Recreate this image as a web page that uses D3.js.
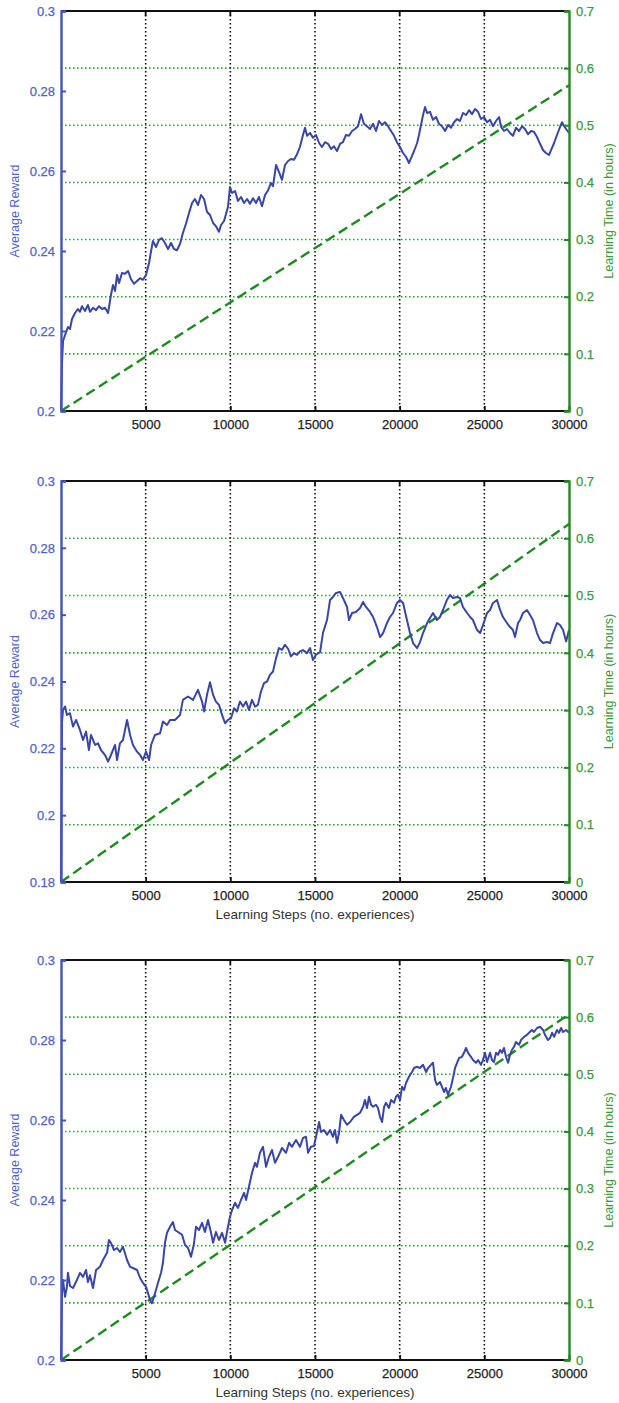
<!DOCTYPE html>
<html>
<head>
<meta charset="utf-8">
<script src="https://cdn.jsdelivr.net/npm/d3@7"></script>
<style>
  html, body { margin: 0; padding: 0; background: #fff; }
  svg { display: block; font-family: "Liberation Sans", Arial, Helvetica, sans-serif; }
</style>
</head>
<body>
<svg id="chart" width="619" height="1403"></svg>
<script>
// Learning steps shown on the shared x axis
const stepTicks = [5000, 10000, 15000, 20000, 25000, 30000];
const gridSteps = [5000, 10000, 15000, 20000, 25000];
const timeTicks = [0, 0.1, 0.2, 0.3, 0.4, 0.5, 0.6, 0.7];
const rewardTicksA = [0.2, 0.22, 0.24, 0.26, 0.28, 0.3];
const rewardTicksB = [0.18, 0.2, 0.22, 0.24, 0.26, 0.28, 0.3];
const rewardTicksC = [0.2, 0.22, 0.24, 0.26, 0.28, 0.3];

// Average reward per run: [learning step, average reward]
const rewardA = [[0,0.200],[60,0.212],[120,0.2175],[240,0.219],[410,0.221],[530,0.2205],[650,0.223],[830,0.2245],[1000,0.2255],[1120,0.2248],[1240,0.2262],[1420,0.2250],[1590,0.2265],[1710,0.2248],[1890,0.2258],[2070,0.2252],[2240,0.2262],[2420,0.2255],[2600,0.2258],[2780,0.2245],[2950,0.2290],[3070,0.2315],[3190,0.2300],[3310,0.2340],[3430,0.2320],[3600,0.2345],[3780,0.2343],[3960,0.2350],[4130,0.2330],[4310,0.2318],[4490,0.2325],[4670,0.2332],[4840,0.2328],[5020,0.2340],[5200,0.2370],[5320,0.2400],[5430,0.2425],[5610,0.2410],[5790,0.2428],[5960,0.2432],[6140,0.2420],[6320,0.2405],[6500,0.2420],[6670,0.2405],[6850,0.2402],[7030,0.2418],[7200,0.2445],[7380,0.2468],[7560,0.2495],[7740,0.2520],[7910,0.2530],[8090,0.2515],[8270,0.2540],[8450,0.2530],[8620,0.2498],[8800,0.2490],[8980,0.2470],[9150,0.2462],[9330,0.2448],[9450,0.2465],[9630,0.2475],[9740,0.2492],[9860,0.2510],[9980,0.2560],[10100,0.2545],[10280,0.2550],[10450,0.2525],[10630,0.2535],[10810,0.2520],[10990,0.2530],[11160,0.2518],[11340,0.2532],[11520,0.2520],[11690,0.2535],[11870,0.2512],[12050,0.2540],[12230,0.2552],[12400,0.2570],[12520,0.2562],[12700,0.2615],[12870,0.2598],[13050,0.2578],[13230,0.2615],[13410,0.2625],[13580,0.2630],[13760,0.2628],[13940,0.2642],[14110,0.2660],[14290,0.2690],[14410,0.2708],[14530,0.2688],[14710,0.2695],[14880,0.2683],[15060,0.2690],[15240,0.2670],[15410,0.2660],[15590,0.2672],[15770,0.2668],[15950,0.2655],[16120,0.2662],[16300,0.2650],[16480,0.2668],[16650,0.2672],[16830,0.2690],[17010,0.2688],[17190,0.2700],[17360,0.2705],[17540,0.2712],[17720,0.2742],[17890,0.2718],[18070,0.2712],[18250,0.2705],[18430,0.2718],[18600,0.2700],[18780,0.2725],[18960,0.2715],[19130,0.2722],[19310,0.2712],[19490,0.2700],[19670,0.2688],[19840,0.2672],[20020,0.2660],[20200,0.2645],[20380,0.2635],[20550,0.2620],[20670,0.2632],[20850,0.2650],[21030,0.2670],[21140,0.2690],[21260,0.2715],[21380,0.2740],[21500,0.2760],[21620,0.2745],[21790,0.2748],[21970,0.2728],[22150,0.2735],[22320,0.2718],[22500,0.2712],[22680,0.2700],[22860,0.2715],[23030,0.2708],[23210,0.2722],[23390,0.2730],[23560,0.2725],[23740,0.2745],[23920,0.2740],[24100,0.2752],[24270,0.2742],[24450,0.2755],[24630,0.2748],[24800,0.2730],[24980,0.2735],[25160,0.2722],[25340,0.2728],[25510,0.2712],[25690,0.2725],[25870,0.2735],[25990,0.2710],[26160,0.2700],[26340,0.2705],[26520,0.2695],[26690,0.2688],[26870,0.2708],[27050,0.2700],[27230,0.2712],[27400,0.2705],[27580,0.2692],[27760,0.2700],[27930,0.2698],[28110,0.2685],[28290,0.2668],[28470,0.2652],[28640,0.2645],[28820,0.2640],[28940,0.2652],[29120,0.2670],[29290,0.2690],[29470,0.2710],[29590,0.2722],[29710,0.2712],[29830,0.2705],[30000,0.2695]];

const rewardB = [[0,0.180],[60,0.2280],[120,0.2315],[240,0.2325],[350,0.2300],[530,0.2305],[710,0.2265],[890,0.2285],[1120,0.2255],[1300,0.2225],[1480,0.2250],[1650,0.2195],[1770,0.2240],[2010,0.2210],[2190,0.2215],[2360,0.2195],[2600,0.2180],[2780,0.2160],[2950,0.2180],[3190,0.2210],[3310,0.2165],[3480,0.2215],[3660,0.2225],[3900,0.2285],[4080,0.2240],[4250,0.2210],[4490,0.2190],[4670,0.2180],[4840,0.2165],[5020,0.2190],[5200,0.2165],[5320,0.2210],[5550,0.2240],[5850,0.2245],[6020,0.2280],[6260,0.2270],[6440,0.2285],[6730,0.2285],[7030,0.2300],[7200,0.2345],[7500,0.2355],[7800,0.2345],[8090,0.2375],[8330,0.2340],[8450,0.2310],[8620,0.2360],[8800,0.2398],[8980,0.2360],[9150,0.2340],[9330,0.2330],[9510,0.2300],[9690,0.2275],[9860,0.2285],[10040,0.2290],[10220,0.2320],[10390,0.2310],[10570,0.2340],[10750,0.2325],[10930,0.2340],[11100,0.2315],[11280,0.2345],[11460,0.2325],[11630,0.2330],[11810,0.2370],[11990,0.2395],[12170,0.2400],[12340,0.2420],[12520,0.2430],[12700,0.2470],[12870,0.2500],[13050,0.2495],[13230,0.2510],[13410,0.2498],[13580,0.2475],[13760,0.2485],[13940,0.2480],[14110,0.2490],[14290,0.2494],[14530,0.2485],[14710,0.2500],[14880,0.2464],[15060,0.2480],[15300,0.2488],[15470,0.2545],[15710,0.2584],[15890,0.2644],[16060,0.2653],[16240,0.2665],[16480,0.2668],[16650,0.2650],[16890,0.2623],[17010,0.2584],[17190,0.2605],[17420,0.2608],[17660,0.2620],[17840,0.2638],[18010,0.2623],[18250,0.2608],[18430,0.2593],[18660,0.2563],[18840,0.2533],[19020,0.2545],[19250,0.2575],[19430,0.2593],[19610,0.2605],[19840,0.2635],[20020,0.2644],[20200,0.2635],[20430,0.2584],[20610,0.2545],[20790,0.2515],[21030,0.2500],[21200,0.2518],[21380,0.2545],[21620,0.2575],[21790,0.2590],[21970,0.2605],[22200,0.2584],[22380,0.2593],[22560,0.2614],[22790,0.2644],[22970,0.2659],[23150,0.2650],[23390,0.2653],[23560,0.2650],[23740,0.2623],[23980,0.2605],[24160,0.2593],[24330,0.2584],[24570,0.2554],[24750,0.2545],[24920,0.2569],[25160,0.2605],[25340,0.2614],[25510,0.2635],[25750,0.2644],[25930,0.2614],[26100,0.2593],[26340,0.2575],[26520,0.2563],[26690,0.2554],[26810,0.2533],[26990,0.2575],[27110,0.2584],[27280,0.2605],[27520,0.2614],[27700,0.2599],[27870,0.2584],[28110,0.2545],[28290,0.2524],[28470,0.2515],[28700,0.2518],[28880,0.2515],[29060,0.2545],[29290,0.2575],[29470,0.2569],[29650,0.2554],[29830,0.2520],[30000,0.2554]];

const rewardC = [[0,0.200],[60,0.2167],[120,0.2200],[240,0.2158],[350,0.2183],[410,0.2218],[530,0.2185],[710,0.2180],[940,0.2200],[1120,0.2218],[1300,0.2208],[1480,0.2225],[1590,0.2195],[1710,0.2212],[1890,0.2180],[2070,0.2225],[2300,0.2233],[2480,0.2250],[2720,0.2268],[2830,0.2300],[2950,0.2293],[3130,0.2275],[3310,0.2280],[3480,0.2270],[3660,0.2283],[3900,0.2250],[4080,0.2233],[4250,0.2230],[4490,0.2225],[4670,0.2205],[4840,0.2193],[5020,0.2183],[5140,0.2167],[5260,0.2150],[5370,0.2142],[5490,0.2158],[5610,0.2175],[5730,0.2193],[5910,0.2218],[6020,0.2243],[6140,0.2293],[6260,0.2318],[6440,0.2333],[6610,0.2345],[6730,0.2325],[6910,0.2320],[7150,0.2313],[7320,0.2288],[7500,0.2280],[7680,0.2258],[7850,0.2290],[7970,0.2333],[8150,0.2325],[8330,0.2343],[8500,0.2320],[8680,0.2350],[8860,0.2318],[8980,0.2293],[9150,0.2320],[9330,0.2300],[9510,0.2318],[9690,0.2293],[9860,0.2333],[9980,0.2358],[10100,0.2375],[10280,0.2393],[10450,0.2380],[10630,0.2400],[10810,0.2418],[10930,0.2400],[11100,0.2433],[11280,0.2468],[11460,0.2493],[11570,0.2483],[11750,0.2518],[11930,0.2533],[12110,0.2483],[12280,0.2508],[12460,0.2525],[12640,0.2493],[12820,0.2508],[13050,0.2530],[13290,0.2518],[13470,0.2543],[13640,0.2533],[13880,0.2550],[14110,0.2533],[14290,0.2555],[14470,0.2558],[14590,0.2518],[14760,0.2533],[14940,0.2535],[15060,0.2558],[15240,0.2595],[15350,0.2570],[15530,0.2575],[15710,0.2563],[15890,0.2575],[16060,0.2558],[16180,0.2575],[16300,0.2543],[16420,0.2568],[16540,0.2613],[16710,0.2600],[16890,0.2588],[17070,0.2595],[17300,0.2608],[17480,0.2613],[17660,0.2618],[17840,0.2633],[17950,0.2650],[18070,0.2630],[18190,0.2658],[18310,0.2638],[18430,0.2633],[18600,0.2638],[18720,0.2630],[18840,0.2608],[18960,0.2595],[19080,0.2633],[19190,0.2643],[19370,0.2630],[19490,0.2650],[19670,0.2643],[19780,0.2658],[19900,0.2663],[20020,0.2650],[20140,0.2683],[20260,0.2675],[20380,0.2693],[20550,0.2708],[20730,0.2720],[20850,0.2730],[21030,0.2733],[21200,0.2730],[21380,0.2738],[21560,0.2720],[21680,0.2730],[21850,0.2738],[21970,0.2743],[22090,0.2700],[22200,0.2688],[22380,0.2695],[22500,0.2683],[22620,0.2670],[22730,0.2680],[22850,0.2663],[23030,0.2683],[23150,0.2705],[23270,0.2730],[23390,0.2743],[23510,0.2755],[23680,0.2758],[23800,0.2768],[23920,0.2780],[24040,0.2768],[24210,0.2758],[24330,0.2750],[24510,0.2743],[24630,0.2750],[24800,0.2738],[24920,0.2750],[25040,0.2768],[25160,0.2745],[25340,0.2768],[25450,0.2750],[25570,0.2745],[25690,0.2768],[25810,0.2763],[25930,0.2775],[26040,0.2768],[26160,0.2780],[26280,0.2758],[26400,0.2743],[26520,0.2763],[26630,0.2775],[26750,0.2783],[26870,0.2795],[27050,0.2788],[27170,0.2800],[27340,0.2808],[27520,0.2813],[27640,0.2818],[27810,0.2825],[27930,0.2820],[28110,0.2830],[28290,0.2833],[28470,0.2825],[28580,0.2813],[28760,0.2800],[28880,0.2805],[29000,0.2818],[29120,0.2808],[29290,0.2825],[29410,0.2818],[29530,0.2830],[29650,0.2820],[29830,0.2825],[30000,0.2818]];

// Cumulative learning time (hours): [learning step, hours]
const timeA = [[0, 0], [30000, 0.57]];
const timeB = [[0, 0], [30000, 0.625]];
const timeC = [[0, 0], [30000, 0.605]];

const BLUE_LINE = "#3846a6";
const BLUE_TEXT = "#5263c6";
const BLUE_AXIS = "#4252bf";
const GREEN_TEXT = "#3a9a3a";
const GREEN_AXIS = "#1f8a1f";
const GREEN_DASH = "#1c8c1c";
const GREEN_GRID = "#2f9c2f";

const svg = d3.select("#chart");
const left = 61, right = 569;

const fmt = v => String(+v.toFixed(2));

function panel(opts) {
  const { top, bottom, rewardDomain, rewardTicks, reward, time, xTitle } = opts;
  const g = svg.append("g");

  const x = d3.scaleLinear().domain([0, 30000]).range([left, right]);
  const yL = d3.scaleLinear().domain(rewardDomain).range([bottom, top]);
  const yR = d3.scaleLinear().domain([0, 0.7]).range([bottom, top]);

  // horizontal dotted grid at the learning-time ticks
  g.append("g").selectAll("line")
    .data(timeTicks.filter(t => t > 0 && t < 0.7))
    .join("line")
    .attr("x1", left).attr("x2", right)
    .attr("y1", d => yR(d)).attr("y2", d => yR(d))
    .attr("stroke", GREEN_GRID).attr("stroke-width", 1.6)
    .attr("stroke-dasharray", "1.5,2.5");

  // vertical dotted grid at the step ticks
  g.append("g").selectAll("line")
    .data(gridSteps)
    .join("line")
    .attr("x1", d => x(d)).attr("x2", d => x(d))
    .attr("y1", top).attr("y2", bottom)
    .attr("stroke", "#111").attr("stroke-width", 1.6)
    .attr("stroke-dasharray", "1.5,2.5");

  // learning time (dashed)
  g.append("path")
    .datum(time)
    .attr("fill", "none")
    .attr("stroke", GREEN_DASH)
    .attr("stroke-width", 2.4)
    .attr("stroke-dasharray", "10,5")
    .attr("d", d3.line().x(d => x(d[0])).y(d => yR(d[1])));

  // average reward
  g.append("path")
    .datum(reward)
    .attr("fill", "none")
    .attr("stroke", BLUE_LINE)
    .attr("stroke-width", 2)
    .attr("stroke-linejoin", "round")
    .attr("d", d3.line().x(d => x(d[0])).y(d => yL(d[1])));

  // frame: top and bottom edges
  g.append("line").attr("x1", left).attr("x2", right).attr("y1", top).attr("y2", top)
    .attr("stroke", "#111").attr("stroke-width", 2.2);
  g.append("line").attr("x1", left).attr("x2", right).attr("y1", bottom).attr("y2", bottom)
    .attr("stroke", "#111").attr("stroke-width", 2.2);

  // x axis (ticks inward, labels below)
  const xAxis = d3.axisBottom(x).tickValues(stepTicks).tickSize(-5).tickPadding(9)
    .tickFormat(d3.format("d"));
  const xa = g.append("g").attr("transform", `translate(0,${bottom})`).call(xAxis);
  xa.select(".domain").remove();
  xa.selectAll(".tick line").attr("stroke", "#111").attr("stroke-width", 1.8);
  xa.selectAll(".tick text").attr("fill", "#222").attr("font-size", 13)
    .attr("stroke", "#222").attr("stroke-width", 0.25);
  // top ticks
  g.append("g").selectAll("line").data(gridSteps).join("line")
    .attr("x1", d => x(d)).attr("x2", d => x(d))
    .attr("y1", top).attr("y2", top + 5)
    .attr("stroke", "#111").attr("stroke-width", 1.8);

  // left axis: average reward
  const lAxis = d3.axisLeft(yL).tickValues(rewardTicks).tickSize(-5).tickPadding(6).tickFormat(fmt);
  const la = g.append("g").attr("transform", `translate(${left},0)`).call(lAxis);
  la.select(".domain").attr("stroke", BLUE_AXIS).attr("stroke-width", 2.4);
  la.selectAll(".tick line").attr("stroke", BLUE_AXIS).attr("stroke-width", 2);
  la.selectAll(".tick text").attr("fill", BLUE_TEXT).attr("font-size", 13)
    .attr("stroke", BLUE_TEXT).attr("stroke-width", 0.25);

  // right axis: learning time
  const rAxis = d3.axisRight(yR).tickValues(timeTicks).tickSize(-5).tickPadding(7).tickFormat(fmt);
  const ra = g.append("g").attr("transform", `translate(${right},0)`).call(rAxis);
  ra.select(".domain").attr("stroke", GREEN_AXIS).attr("stroke-width", 2.4);
  ra.selectAll(".tick line").attr("stroke", GREEN_AXIS).attr("stroke-width", 2);
  ra.selectAll(".tick text").attr("fill", GREEN_TEXT).attr("font-size", 13)
    .attr("stroke", GREEN_TEXT).attr("stroke-width", 0.25);

  const mid = (top + bottom) / 2;
  g.append("text")
    .attr("transform", `translate(15,${mid}) rotate(-90)`)
    .attr("text-anchor", "middle").attr("dominant-baseline", "central")
    .attr("fill", BLUE_TEXT).attr("font-size", 12.5)
    .text("Average Reward");
  g.append("text")
    .attr("transform", `translate(609,${mid}) rotate(-90)`)
    .attr("text-anchor", "middle").attr("dominant-baseline", "central")
    .attr("fill", GREEN_TEXT).attr("font-size", 12.5)
    .text("Learning Time (in hours)");

  if (xTitle) {
    g.append("text")
      .attr("x", (left + right) / 2).attr("y", bottom + 37)
      .attr("text-anchor", "middle")
      .attr("fill", "#333").attr("font-size", 13.5)
      .text("Learning Steps (no. experiences)");
  }
}

panel({ top: 11, bottom: 411, rewardDomain: [0.2, 0.3], rewardTicks: rewardTicksA,
        reward: rewardA, time: timeA, xTitle: false });
panel({ top: 481, bottom: 882, rewardDomain: [0.18, 0.3], rewardTicks: rewardTicksB,
        reward: rewardB, time: timeB, xTitle: true });
panel({ top: 960, bottom: 1360, rewardDomain: [0.2, 0.3], rewardTicks: rewardTicksC,
        reward: rewardC, time: timeC, xTitle: true });
</script>
</body>
</html>
